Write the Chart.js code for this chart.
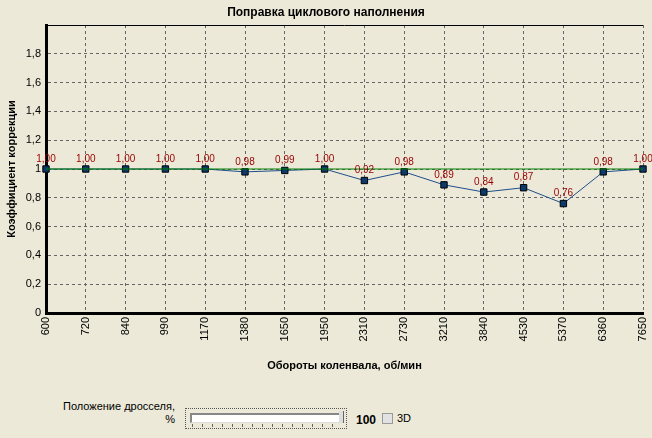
<!DOCTYPE html>
<html>
<head>
<meta charset="utf-8">
<script src="https://cdn.jsdelivr.net/npm/chart.js@4"></script>
<style>
  body { margin: 0; background: #ECE9D8; font-family: "Liberation Sans", Arial, sans-serif; }
  #wrap { position: relative; width: 652px; height: 438px; overflow: hidden; }
  #corr { position: absolute; left: 0; top: 0; }
  .lbl { position: absolute; font-size: 11px; color: #000; white-space: nowrap; }
  #slider { position: absolute; left: 185px; top: 408px; width: 162px; height: 21px; border: 1px dotted #555; box-sizing: border-box; }
  #track { position: absolute; left: 4px; top: 4px; width: 152px; height: 7px; background: #fff; border-top: 2px solid #888; border-left: 2px solid #888; border-bottom: 1px solid #ddd; }
  #thumb { position: absolute; left: 153px; top: 2px; width: 4px; height: 12px; background: #ddd; border-right: 1px solid #666; }
  #ticks { position: absolute; left: 6px; top: 15px; width: 150px; height: 3px;
    background: repeating-linear-gradient(to right, #666 0, #666 1px, transparent 1px, transparent 10px); }
  #chk { position: absolute; left: 382px; top: 413px; width: 11px; height: 11px; background: #e2e2e2; border: 1px solid #999; box-sizing: border-box; }
</style>
</head>
<body>
<div id="wrap">
  <canvas id="corr" width="652" height="385"></canvas>
  <div class="lbl" style="right:477px; top:400px; text-align:right;">Положение дросселя,</div>
  <div class="lbl" style="right:477px; top:413px; text-align:right;">%</div>
  <div id="slider"><div id="track"></div><div id="thumb"></div><div id="ticks"></div></div>
  <div class="lbl" style="left:356px; top:413px; font-weight:bold; font-size:12px;">100</div>
  <div id="chk"></div>
  <div class="lbl" style="left:397px; top:412px;">3D</div>
</div>
<script>
const rpm = ["600", "720", "840", "990", "1170", "1380", "1650", "1950", "2310", "2730", "3210", "3840", "4530", "5370", "6360", "7650"];
const correction = [1.00, 1.00, 1.00, 1.00, 1.00, 0.98, 0.99, 1.00, 0.92, 0.98, 0.89, 0.84, 0.87, 0.76, 0.98, 1.00];
const baseline = [1, 1, 1, 1, 1, 1, 1, 1, 1, 1, 1, 1, 1, 1, 1, 1];
const yTicks = [0, 0.2, 0.4, 0.6, 0.8, 1, 1.2, 1.4, 1.6, 1.8];

function fmt(v) {
  if (v === 0) return "0";
  if (v === 1) return "1";
  return v.toFixed(1).replace(".", ",");
}

// value labels over the points + top border
const pointLabels = {
  id: "pointLabels",
  afterDatasetsDraw(chart) {
    const ctx = chart.ctx;
    const area = chart.chartArea;
    ctx.save();
    ctx.strokeStyle = "#000";
    ctx.lineWidth = 1;
    ctx.beginPath();
    ctx.moveTo(area.left, area.top + 0.5);
    ctx.lineTo(area.right, area.top + 0.5);
    ctx.stroke();

    const meta = chart.getDatasetMeta(1);
    ctx.fillStyle = "#990000";
    ctx.font = "10px 'Liberation Sans', Arial, sans-serif";
    ctx.textAlign = "center";
    ctx.textBaseline = "bottom";
    meta.data.forEach((pt, i) => {
      ctx.fillText(correction[i].toFixed(2).replace(".", ","), pt.x, pt.y - 5);
    });
    ctx.restore();
  }
};

const ctx = document.getElementById("corr").getContext("2d");
const corrChart = new Chart(ctx, {
  type: "line",
  data: {
    labels: rpm,
    datasets: [
      {
        label: "База",
        data: baseline,
        borderColor: "#008000",
        borderWidth: 1,
        pointRadius: 0,
        tension: 0
      },
      {
        label: "Коэффициент",
        data: correction,
        borderColor: "#1F4E8C",
        borderWidth: 1,
        pointStyle: "rect",
        pointRadius: 4.5,
        pointBackgroundColor: "#0B3A6B",
        pointBorderColor: "#000",
        pointBorderWidth: 1,
        tension: 0
      }
    ]
  },
  options: {
    responsive: false,
    animation: false,
    layout: { padding: { top: 25, right: 9, left: 0, bottom: 0 } },
    plugins: {
      legend: { display: false },
      tooltip: { enabled: false },
      title: { display: false }
    },
    scales: {
      x: {
        offset: false,
        afterFit: (scale) => {
          scale.height = 72;
          scale.paddingLeft = 0;
          scale.paddingRight = 0;
        },
        grid: {
          color: "#666",
          lineWidth: 1,
          drawTicks: false
        },
        border: { color: "#000", width: 3, dash: [3, 3] },
        ticks: {
          minRotation: 90,
          maxRotation: 90,
          padding: 4,
          color: "#000",
          font: { family: "'Liberation Sans', Arial, sans-serif", size: 11 }
        },
        title: {
          display: true,
          text: "Обороты коленвала, об/мин",
          color: "#000",
          font: { family: "'Liberation Sans', Arial, sans-serif", size: 11, weight: "bold" },
          padding: { top: 0, bottom: 12 }
        }
      },
      y: {
        min: 0,
        max: 2,
        afterFit: (scale) => { scale.width = 46; },
        afterBuildTicks: (scale) => { scale.ticks = yTicks.map((v) => ({ value: v })); },
        grid: {
          color: "#666",
          lineWidth: 1,
          drawTicks: false
        },
        border: { color: "#000", width: 3, dash: [3, 3] },
        ticks: {
          padding: 5,
          color: "#000",
          font: { family: "'Liberation Sans', Arial, sans-serif", size: 11 },
          callback: (v) => fmt(v)
        },
        title: {
          display: true,
          text: "Коэффициент коррекции",
          color: "#000",
          font: { family: "'Liberation Sans', Arial, sans-serif", size: 11, weight: "bold" },
          padding: { top: 5, bottom: 0 }
        }
      }
    }
  },
  plugins: [
    pointLabels,
    {
      id: "chartTitle",
      afterDraw(chart) {
        const c = chart.ctx;
        c.save();
        c.fillStyle = "#000";
        c.font = "bold 12px 'Liberation Sans', Arial, sans-serif";
        c.textAlign = "center";
        c.textBaseline = "middle";
        c.fillText("Поправка циклового наполнения", 326, 13);
        c.restore();
      }
    }
  ]
});
</script>
</body>
</html>
